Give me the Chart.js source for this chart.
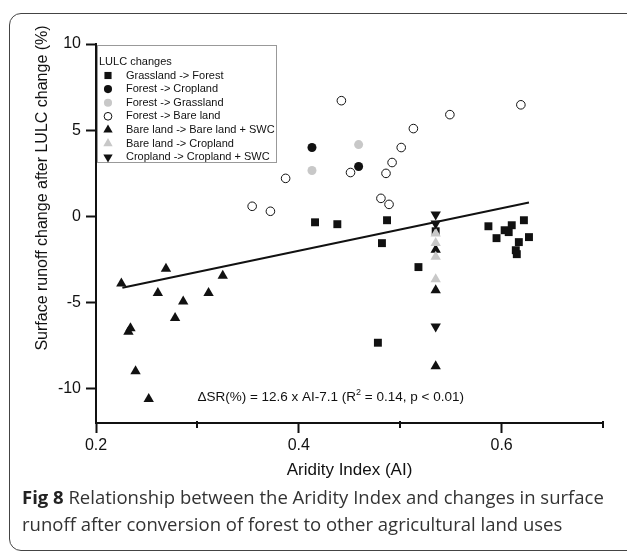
<!DOCTYPE html>
<html>
<head>
<meta charset="utf-8">
<script src="https://cdn.jsdelivr.net/npm/chart.js@4.4.0/dist/chart.umd.min.js"></script>
<style>
html, body { margin: 0; padding: 0; background: #fff; }
#wrap { position: relative; width: 627px; height: 554px; overflow: hidden; }
#frame { position: absolute; left: 9px; top: 13px; width: 630px; height: 538px; border: 1.5px solid #444; border-radius: 12px; box-sizing: border-box; }
#chart { position: absolute; left: 0; top: 0; }
#caption { position: absolute; left: 22px; top: 483px; width: 605px; font-family: "Open Sans", sans-serif; font-size: 18.5px; line-height: 27px; color: #333; white-space: nowrap; }
#caption b { color: #222; }
</style>
</head>
<body>
<div id="wrap">
  <div id="frame"></div>
  <canvas id="chart" width="627" height="554"></canvas>
  <div id="caption"><b>Fig 8</b> Relationship between the Aridity Index and changes in surface<br>runoff after conversion of forest to other agricultural land uses</div>
</div>
<script>
// valores
const grassForestX = [0.416, 0.438, 0.487, 0.482, 0.518, 0.535, 0.478, 0.587, 0.595, 0.603, 0.607, 0.610, 0.622, 0.617, 0.627, 0.614, 0.615];
const grassForestY = [-0.35, -0.46, -0.23, -1.56, -2.95, -0.87, -7.34, -0.58, -1.27, -0.81, -0.92, -0.52, -0.23, -1.50, -1.21, -1.97, -2.20];

const forestCropX = [0.413, 0.459];
const forestCropY = [3.99, 2.89];

const forestGrassX = [0.413, 0.459];
const forestGrassY = [2.66, 4.16];

const forestBareX = [0.354, 0.372, 0.387, 0.442, 0.451, 0.481, 0.486, 0.489, 0.492, 0.501, 0.513, 0.549, 0.619];
const forestBareY = [0.58, 0.29, 2.20, 6.71, 2.54, 1.04, 2.49, 0.69, 3.12, 3.99, 5.09, 5.90, 6.47];

const bareSwcX = [0.225, 0.269, 0.261, 0.286, 0.325, 0.311, 0.278, 0.234, 0.232, 0.239, 0.252, 0.535, 0.535, 0.535];
const bareSwcY = [-3.9, -3.05, -4.45, -4.95, -3.45, -4.45, -5.9, -6.5, -6.7, -9.0, -10.6, -1.95, -4.3, -8.7];

const bareCropX = [0.535, 0.535, 0.535, 0.535];
const bareCropY = [-1.0, -1.55, -2.35, -3.65];

const cropSwcX = [0.535, 0.535, 0.535];
const cropSwcY = [0.1, -0.42, -6.4];

const trendX = [0.226, 0.627];
const trendY = [-4.15, 0.80];

const xTicks = [0.2, 0.3, 0.4, 0.5, 0.6, 0.7];
const xLabelled = [0.2, 0.4, 0.6];
const yTicks = [-10, -5, 0, 5, 10];

const FONT = '"Liberation Sans", Arial, sans-serif';
const BLACK = '#111';
const GREY = '#c8c8c8';

const toPoints = (xs, ys) => xs.map((x, i) => ({ x: x, y: ys[i] }));

const series = [
    { label: 'Grassland -> Forest', x: grassForestX, y: grassForestY, style: 'rect', radius: 5.6, fill: BLACK, border: BLACK, bw: 0, rot: 0, order: 9 },
    { label: 'Forest -> Cropland', x: forestCropX, y: forestCropY, style: 'circle', radius: 4.5, fill: BLACK, border: BLACK, bw: 0, rot: 0, order: 6 },
    { label: 'Forest -> Grassland', x: forestGrassX, y: forestGrassY, style: 'circle', radius: 4.5, fill: GREY, border: GREY, bw: 0, rot: 0, order: 7 },
    { label: 'Forest -> Bare land', x: forestBareX, y: forestBareY, style: 'circle', radius: 4.3, fill: '#fff', border: BLACK, bw: 1, rot: 0, order: 8 },
    { label: 'Bare land -> Bare land + SWC', x: bareSwcX, y: bareSwcY, style: 'triangle', radius: 6, fill: BLACK, border: BLACK, bw: 0, rot: 0, order: 5 },
    { label: 'Bare land -> Cropland', x: bareCropX, y: bareCropY, style: 'triangle', radius: 6, fill: GREY, border: GREY, bw: 0, rot: 0, order: 4 },
    { label: 'Cropland -> Cropland + SWC', x: cropSwcX, y: cropSwcY, style: 'triangle', radius: 6, fill: BLACK, border: BLACK, bw: 0, rot: 180, order: 3 }
];

const datasets = series.map(s => ({
    type: 'scatter',
    label: s.label,
    data: toPoints(s.x, s.y),
    pointStyle: s.style,
    pointRadius: s.radius,
    pointRotation: s.rot,
    backgroundColor: s.fill,
    borderColor: s.border,
    borderWidth: s.bw,
    order: s.order
}));

datasets.push({
    type: 'line',
    label: 'trend',
    data: toPoints(trendX, trendY),
    borderColor: BLACK,
    borderWidth: 2,
    pointRadius: 0,
    fill: false,
    order: 10
});

const isLabelled = v => xLabelled.some(t => Math.abs(t - v) < 1e-6);

// titulos, ticks menores, equacao e legenda
const extras = {
    id: 'extras',
    afterDraw(chart) {
        const ctx = chart.ctx;
        const xs = chart.scales.x;
        const ys = chart.scales.y;
        ctx.save();

        // ticks menores do eixo x
        ctx.strokeStyle = BLACK;
        ctx.lineWidth = 2;
        xTicks.forEach(v => {
            if (isLabelled(v)) return;
            const px = Math.round(xs.getPixelForValue(v));
            ctx.beginPath();
            ctx.moveTo(px, ys.bottom - 2);
            ctx.lineTo(px, ys.bottom + 5);
            ctx.stroke();
        });

        // titulos dos eixos
        ctx.fillStyle = '#111';
        ctx.font = '17px ' + FONT;
        ctx.textAlign = 'center';
        ctx.textBaseline = 'middle';
        ctx.fillText('Aridity Index (AI)', (xs.left + xs.right) / 2, 470);
        ctx.save();
        ctx.translate(43, 188);
        ctx.rotate(-Math.PI / 2);
        ctx.font = '16px ' + FONT;
        ctx.fillText('Surface runoff change after LULC change (%)', 0, 0);
        ctx.restore();

        // equacao
        ctx.font = '13.5px ' + FONT;
        ctx.textAlign = 'left';
        let ex = xs.getPixelForValue(0.3);
        const ey = ys.getPixelForValue(-10.5);
        const part1 = '\u0394SR(%) = 12.6 x AI-7.1 (R';
        const part2 = ' = 0.14, p < 0.01)';
        ctx.fillText(part1, ex, ey);
        ex += ctx.measureText(part1).width;
        ctx.font = '9px ' + FONT;
        ctx.fillText('2', ex, ey - 5);
        ex += ctx.measureText('2').width;
        ctx.font = '13.5px ' + FONT;
        ctx.fillText(part2, ex, ey);

        // legenda
        const lx = 97.5, ly = 45.5, lw = 179, lh = 117;
        ctx.fillStyle = '#fff';
        ctx.fillRect(lx, ly, lw, lh);
        ctx.strokeStyle = '#999';
        ctx.lineWidth = 1;
        ctx.strokeRect(lx, ly, lw, lh);
        ctx.fillStyle = '#111';
        ctx.font = '11px ' + FONT;
        ctx.fillText('LULC changes', 99, 62);
        series.forEach((s, i) => {
            const iy = 75.5 + i * 13.6;
            ctx.fillStyle = s.fill;
            ctx.strokeStyle = s.border;
            ctx.lineWidth = s.bw;
            Chart.helpers.drawPoint(ctx, {
                pointStyle: s.style,
                radius: s.radius * 0.9,
                rotation: s.rot,
                borderWidth: s.bw
            }, 108, iy);
            ctx.fillStyle = '#111';
            ctx.fillText(s.label, 126, iy);
        });
        ctx.restore();
    }
};

new Chart(document.getElementById('chart'), {
    data: { datasets: datasets },
    options: {
        responsive: false,
        animation: false,
        layout: { padding: { left: 0, top: 44, right: 24, bottom: 0 } },
        plugins: {
            legend: { display: false },
            tooltip: { enabled: false }
        },
        scales: {
            x: {
                type: 'linear',
                min: 0.2,
                max: 0.7,
                afterFit: scale => { scale.height = 131; },
                afterBuildTicks: scale => { scale.ticks = xTicks.map(v => ({ value: v })); },
                ticks: {
                    autoSkip: false,
                    maxRotation: 0,
                    padding: 3,
                    color: '#111',
                    font: { size: 16, family: FONT },
                    callback: v => isLabelled(v) ? v.toFixed(1) : ''
                },
                grid: {
                    drawOnChartArea: false,
                    drawTicks: true,
                    tickLength: 10,
                    tickWidth: 2,
                    tickColor: c => (c.tick && isLabelled(c.tick.value)) ? BLACK : 'rgba(0,0,0,0)'
                },
                border: { color: BLACK, width: 2 }
            },
            y: {
                type: 'linear',
                min: -12,
                max: 10,
                afterFit: scale => { scale.width = 96; },
                afterBuildTicks: scale => { scale.ticks = yTicks.map(v => ({ value: v })); },
                ticks: {
                    padding: 5,
                    color: '#111',
                    font: { size: 16, family: FONT }
                },
                grid: {
                    drawOnChartArea: false,
                    drawTicks: true,
                    tickLength: 10,
                    tickWidth: 2,
                    tickColor: BLACK
                },
                border: { color: BLACK, width: 2 }
            }
        }
    },
    plugins: [extras]
});
</script>
</body>
</html>
